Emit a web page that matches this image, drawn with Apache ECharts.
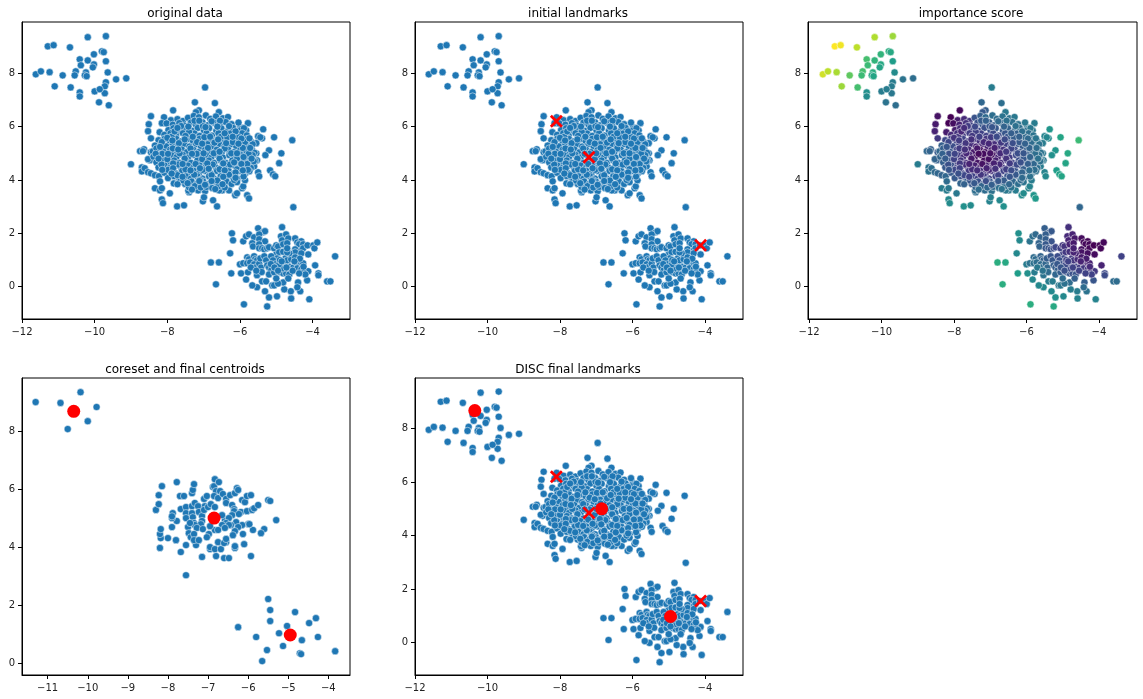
<!DOCTYPE html>
<html>
<head>
<meta charset="utf-8">
<title>DISC landmarks</title>
<script src="https://cdn.jsdelivr.net/npm/echarts@6/dist/echarts.min.js"></script>
<style>
  html, body { margin: 0; padding: 0; background: #fff; }
  #chart { width: 1143px; height: 699px; }
</style>
</head>
<body>
<div id="chart"></div>
<script>
"use strict";

// every point is [x, y, importance score]
var clusterA = [
  [-11.62,7.96,.93],[-11.48,8.07,.9],[-11.24,8.04,.87],[-11.29,9.01,1],[-11.13,9.05,.98],[-11.1,7.51,.85],
  [-10.68,8.97,.9],[-10.88,7.92,.75],[-10.66,7.47,.7],[-10.19,9.35,.88],[-9.69,9.39,.85],[-10.41,8.52,.7],
  [-10.38,8.3,.68],[-10.52,8.07,.7],[-10.55,7.92,.68],[-10.41,7.28,.5],[-10.41,7.13,.48],[-10.19,8.48,.65],
  [-10.24,8.03,.62],[-10.27,7.92,.6],[-10.22,7.89,.58],[-10.02,8.71,.65],[-10.02,8.33,.6],[-10.05,8.22,.58],
  [-9.8,8.82,.62],[-9.75,8.79,.6],[-9.69,8.45,.55],[-9.64,8.03,.48],[-9.69,7.66,.42],[-9.72,7.51,.42],
  [-9.72,7.25,.4],[-10,7.32,.42],[-9.86,7.4,.42],[-9.88,6.91,.38],[-9.61,6.8,.36],[-9.41,7.77,.38],[-9.13,7.81,.36]
];

var clusterBEdge = [
  [-6.96,7.47,.42],[-7.24,6.91,.33],[-6.69,6.88,.36],[-7.84,6.61,.02],[-7.13,6.61,.3],[-7.21,6.54,.28],[-6.58,6.54,.4],
  [-8.45,6.39,.05],[-8.09,6.35,0],[-8.51,6.09,.07],[-8.15,6.13,0],[-8.53,5.83,.1],[-8.21,5.79,.08],[-8.45,5.56,.17],
  [-5.78,6.13,.42],[-5.99,5.97,.38],[-5.36,5.9,.52],[-5.83,5.86,.4],[-5.06,5.6,.58],[-4.56,5.49,.68],[-5.5,5.64,.45],
  [-5.39,5.56,.48],[-5.44,5.6,.46],[-5.55,5.38,.42],[-5.2,5.11,.52],[-5.3,4.93,.5],[-4.86,5,.6],[-4.92,4.63,.58],
  [-5.55,5,.4],[-5.53,4.74,.4],[-5.58,4.71,.4],[-5.17,4.36,.55],[-5.09,4.21,.57],[-5.03,4.14,.58],[-5.5,4.29,.45],
  [-5.47,4.14,.47],[-9,4.59,.42],[-8.75,5.08,.33],[-8.64,5.15,.3],[-8.67,5.08,.32],[-8.7,4.47,.38],[-8.7,4.32,.38],
  [-8.62,4.44,.36],[-8.45,5.04,.28],[-8.48,4.74,.3],[-8.53,4.78,.32],[-8.53,4.29,.34],[-8.45,4.25,.33],[-8.34,4.18,.32],
  [-8.23,4.14,.33],[-8.2,3.95,.35],[-8.34,3.69,.42],[-8.2,3.61,.42],[-8.15,3.69,.4],[-8.15,3.27,.47],[-8.12,3.13,.48],
  [-7.93,3.5,.4],[-7.73,3.01,.5],[-7.54,3.05,.48],[-7.4,3.54,.36],[-7.42,3.6,.36],[-7.15,3.61,.35],[-6.96,3.58,.37],
  [-7.02,3.2,.45],[-6.99,3.35,.43],[-6.74,3.24,.47],[-6.63,3.01,.5],[-6.13,3.43,.48],[-6.08,3.5,.48],[-5.94,3.69,.46],
  [-5.91,3.76,.45],[-5.8,3.43,.52],[-5.75,3.31,.54],[-6.3,3.61,.42],[-6.49,3.61,.4],[-6.57,3.61,.4],[-5.86,3.99,.42],
  [-5.61,4.51,.42]
];

var clusterBBody = [
  [-7.9,6.24,.08],[-7.72,6.28,.12],[-7.57,6.21,.16],[-7.43,6.33,.26],[-7.27,6.4,.3],[-7.13,6.35,.34],[-6.94,6.42,.36],
  [-6.82,6.29,.35],[-6.66,6.38,.38],[-6.47,6.31,.38],[-6.33,6.36,.4],
  [-8.02,6.12,.04],[-7.85,6.07,.1],[-7.67,6.13,.14],[-7.53,6.04,.2],[-7.35,6.15,.25],[-7.21,6.07,.28],[-7.03,6.16,.3],
  [-6.89,6.05,.3],[-6.71,6.15,.33],[-6.56,6.07,.35],[-6.39,6.17,.37],[-6.23,6.09,.38],[-6.04,6.15,.4],
  [-7.97,5.87,.08],[-7.83,5.94,.12],[-7.64,5.85,.16],[-7.49,5.93,.2],[-7.31,5.84,.22],[-7.16,5.95,.25],[-6.99,5.85,.25],
  [-6.85,5.94,.28],[-6.65,5.84,.28],[-6.51,5.93,.32],[-6.33,5.84,.33],[-6.19,5.95,.36],[-6.01,5.85,.37],[-5.89,5.94,.4],
  [-8.08,5.69,.12],[-7.91,5.75,.14],[-7.76,5.67,.17],[-7.57,5.75,.18],[-7.43,5.66,.17],[-7.25,5.74,.2],[-7.11,5.65,.2],
  [-6.92,5.75,.23],[-6.77,5.66,.23],[-6.59,5.75,.27],[-6.45,5.65,.28],[-6.26,5.74,.31],[-6.11,5.65,.33],[-5.94,5.75,.36],
  [-5.81,5.67,.38],
  [-8.24,5.49,.22],[-8.07,5.55,.18],[-7.93,5.46,.2],[-7.75,5.54,.2],[-7.61,5.45,.17],[-7.43,5.54,.15],[-7.29,5.45,.14],
  [-7.11,5.54,.16],[-6.97,5.45,.16],[-6.79,5.54,.2],[-6.64,5.45,.22],[-6.46,5.54,.26],[-6.31,5.45,.27],[-6.13,5.54,.31],
  [-5.99,5.45,.32],[-5.81,5.53,.36],[-5.7,5.44,.38],
  [-8.34,5.29,.3],[-8.17,5.35,.26],[-8.03,5.26,.24],[-7.85,5.34,.2],[-7.71,5.25,.16],[-7.53,5.34,.13],[-7.39,5.25,.1],
  [-7.21,5.34,.1],[-7.07,5.25,.1],[-6.89,5.34,.13],[-6.75,5.25,.15],[-6.57,5.34,.2],[-6.43,5.25,.23],[-6.24,5.34,.27],
  [-6.1,5.25,.29],[-5.92,5.34,.33],[-5.79,5.25,.36],[-5.65,5.34,.38],
  [-8.4,5.07,.33],[-8.24,5.14,.3],[-8.1,5.05,.27],[-7.92,5.14,.2],[-7.78,5.05,.15],[-7.6,5.14,.12],[-7.46,5.04,.07],
  [-7.28,5.13,.05],[-7.14,5.04,.04],[-6.96,5.13,.08],[-6.82,5.04,.1],[-6.64,5.13,.15],[-6.5,5.04,.2],[-6.32,5.13,.23],
  [-6.17,5.04,.27],[-5.99,5.13,.3],[-5.85,5.04,.34],[-5.67,5.13,.37],[-5.6,5.02,.38],
  [-8.38,4.87,.32],[-8.21,4.94,.28],[-8.07,4.85,.24],[-7.89,4.94,.18],[-7.75,4.85,.14],[-7.57,4.94,.1],[-7.43,4.84,.05],
  [-7.25,4.93,.01],[-7.11,4.84,.02],[-6.93,4.93,.05],[-6.79,4.84,.1],[-6.61,4.93,.14],[-6.47,4.84,.18],[-6.29,4.93,.22],
  [-6.15,4.84,.26],[-5.97,4.93,.3],[-5.83,4.84,.33],[-5.65,4.93,.37],
  [-8.3,4.66,.3],[-8.13,4.73,.26],[-7.99,4.64,.2],[-7.81,4.73,.16],[-7.67,4.64,.12],[-7.49,4.73,.08],[-7.35,4.64,.05],
  [-7.17,4.73,.03],[-7.03,4.64,.06],[-6.85,4.73,.09],[-6.71,4.64,.13],[-6.53,4.73,.16],[-6.39,4.64,.2],[-6.21,4.73,.24],
  [-6.07,4.64,.27],[-5.89,4.73,.31],[-5.75,4.64,.35],[-5.62,4.7,.37],
  [-8.24,4.47,.28],[-8.07,4.54,.25],[-7.93,4.45,.2],[-7.75,4.54,.16],[-7.61,4.45,.13],[-7.43,4.54,.09],[-7.29,4.45,.09],
  [-7.11,4.54,.09],[-6.97,4.45,.11],[-6.79,4.54,.13],[-6.65,4.45,.16],[-6.47,4.54,.19],[-6.33,4.45,.23],[-6.15,4.54,.26],
  [-6.01,4.45,.3],[-5.83,4.54,.33],[-5.7,4.45,.36],
  [-8.08,4.27,.28],[-7.91,4.34,.23],[-7.77,4.25,.2],[-7.59,4.34,.17],[-7.45,4.25,.14],[-7.27,4.34,.13],[-7.13,4.25,.14],
  [-6.95,4.34,.15],[-6.81,4.25,.19],[-6.63,4.34,.2],[-6.49,4.25,.23],[-6.31,4.34,.26],[-6.17,4.25,.3],[-5.99,4.34,.32],
  [-5.85,4.25,.36],[-5.74,4.33,.37],
  [-7.98,4.07,.28],[-7.81,4.14,.25],[-7.67,4.05,.23],[-7.49,4.14,.2],[-7.35,4.05,.2],[-7.17,4.14,.18],[-7.03,4.05,.2],
  [-6.85,4.14,.21],[-6.71,4.05,.25],[-6.53,4.14,.26],[-6.39,4.05,.29],[-6.21,4.14,.31],[-6.07,4.05,.34],[-5.9,4.13,.37],
  [-7.82,3.87,.32],[-7.65,3.94,.3],[-7.51,3.85,.28],[-7.33,3.94,.25],[-7.19,3.85,.26],[-7.01,3.94,.27],[-6.87,3.85,.28],
  [-6.69,3.94,.3],[-6.55,3.85,.32],[-6.37,3.94,.33],[-6.23,3.85,.36],[-6.08,3.92,.38],
  [-7.4,3.72,.32],[-7.24,3.77,.32],[-7.08,3.72,.33],[-6.92,3.74,.34],[-6.76,3.7,.36],[-6.6,3.76,.36],[-6.42,3.72,.38],
  // second, looser layer over the dense part
  [-7.62,6.02,.18],[-7.25,6.22,.29],[-6.78,6.2,.34],[-6.3,6.02,.37],[-7.88,5.62,.16],[-7.4,5.8,.19],[-6.98,5.6,.18],
  [-6.52,5.62,.27],[-6.03,5.6,.34],[-8.15,5.42,.22],[-7.68,5.38,.16],[-7.18,5.42,.12],[-6.7,5.4,.17],[-6.2,5.42,.28],
  [-5.86,5.42,.35],[-8.3,5.18,.3],[-7.85,5.18,.18],[-7.36,5.18,.07],[-6.88,5.2,.1],[-6.42,5.18,.21],[-5.92,5.2,.32],
  [-8.14,4.98,.25],[-7.66,5.0,.11],[-7.19,4.98,.03],[-6.72,5.0,.12],[-6.24,5.0,.24],[-5.76,4.98,.36],[-8.0,4.78,.2],
  [-7.52,4.8,.07],[-7.04,4.78,.04],[-6.56,4.8,.15],[-6.08,4.8,.28],[-8.16,4.58,.25],[-7.7,4.58,.13],[-7.22,4.6,.05],
  [-6.75,4.58,.12],[-6.27,4.58,.23],[-5.8,4.6,.33],[-7.98,4.38,.22],[-7.5,4.4,.13],[-7.03,4.38,.12],[-6.56,4.4,.19],
  [-6.08,4.4,.3],[-7.72,4.18,.22],[-7.26,4.2,.16],[-6.78,4.18,.2],[-6.3,4.2,.28],[-7.56,3.98,.27],[-7.1,4.0,.24],
  [-6.62,3.98,.29],[-6.16,4.0,.34],[-7.3,5.62,.19],[-6.82,5.62,.23],[-6.35,5.6,.3],[-7.5,5.65,.17],[-7.02,6.02,.27],
  [-6.55,6.22,.37],[-6.12,5.82,.36],
  // more of the crowd, filling the holes
  [-8.0,5.58,.15],[-7.8,5.82,.11],[-7.72,5.95,.13],[-7.42,6.0,.22],[-7.12,6.22,.31],[-6.95,5.98,.27],[-6.62,6.0,.32],
  [-6.42,5.75,.3],[-6.2,5.62,.31],[-5.96,5.55,.34],[-5.74,5.56,.39],[-7.86,5.48,.18],[-7.52,5.52,.14],[-7.04,5.36,.11],
  [-6.6,5.52,.23],[-6.38,5.38,.24],[-6.04,5.36,.31],[-5.72,5.2,.36],[-8.2,5.24,.27],[-8.32,4.98,.31],[-7.98,4.98,.21],
  [-7.7,5.14,.14],[-7.32,4.98,.03],[-7.0,5.0,.05],[-6.56,5.06,.17],[-6.08,5.0,.27],[-5.9,4.86,.32],[-5.68,4.8,.37],
  [-8.24,4.8,.29],[-7.84,4.62,.17],[-7.58,4.6,.1],[-7.1,4.44,.1],[-6.9,4.62,.09],[-6.46,4.62,.18],[-6.16,4.66,.25],
  [-5.96,4.6,.3],[-5.78,4.38,.36],[-8.14,4.38,.27],[-7.84,4.44,.2],[-7.36,4.36,.13],[-6.86,4.42,.14],[-6.42,4.36,.24],
  [-6.12,4.28,.32],[-5.92,4.36,.35],[-7.88,4.24,.25],[-7.58,4.12,.2],[-7.12,3.96,.24],[-6.78,3.96,.28],[-6.46,4.12,.27],
  [-6.12,4.08,.34],[-7.72,3.84,.31],[-7.44,3.88,.28],[-6.96,3.82,.3],[-6.48,3.84,.33],[-7.32,3.64,.35],[-6.68,3.66,.38]
];

var clusterC = [
  [-6.8,.91,.62],[-6.58,.91,.6],[-6.66,.09,.62],[-6.27,1.25,.47],[-6.22,2,.5],[-6.19,1.74,.47],[-6.24,.5,.55],[-5.97,.5,.5],
  [-6,.84,.42],[-5.91,1.7,.38],[-5.83,1.89,.36],[-5.75,1.96,.34],[-5.61,1.85,.32],[-5.5,2.19,.3],[-5.36,2.04,.28],
  [-5.31,2.08,.28],[-5.47,1.96,.3],[-5.47,1.78,.3],[-5.31,1.7,.26],[-5.66,1.63,.32],[-5.64,1.51,.32],[-5.47,1.59,.28],
  [-5.47,1.44,.28],[-5.39,1.44,.27],[-5.33,1.4,.26],[-5.25,1.44,.24],[-5.2,1.48,.22],[-5.06,1.44,.2],[-5,1.55,.16],
  [-4.95,1.51,.15],[-4.84,2.23,.14],[-4.87,1.89,.12],[-4.73,1.96,.1],[-4.84,1.74,.1],[-4.81,1.59,.1],[-4.67,1.81,.07],
  [-4.7,1.63,.07],[-4.48,1.81,.03],[-4.42,1.66,.02],[-4.31,1.7,.01],[-4.37,1.59,.02],[-4.26,1.59,.01],[-4.48,1.4,.04],
  [-4.31,1.36,.03],[-4.26,1.44,.02],[-4.48,1.29,.05],[-4.31,1.25,.04],[-4.14,1.55,0],[-3.98,1.55,.01],[-3.95,1.44,.01],
  [-3.87,1.66,.02],[-4.12,1.21,.03],[-3.38,1.14,.2],[-3.93,.8,.1],[-4.12,.58,.17],[-3.84,.5,.22],[-3.84,.43,.23],
  [-4.15,.24,.27],[-3.6,.2,.35],[-3.51,.2,.35],[-4.09,-.47,.45],[-4.59,-.44,.45],[-4.34,-.17,.38],[-4.6,-.17,.42],
  [-4.4,.16,.3],[-4.42,-.02,.35],[-4.78,-.1,.42],[-4.98,-.36,.47],[-5.2,-.4,.5],[-5.31,-.17,.47],[-5.53,-.02,.47],
  [-5.66,.05,.47],[-5.39,.2,.42],[-5.28,.2,.42],[-5.11,.05,.4],[-5.06,.05,.4],[-4.81,.16,.35],[-4.95,.12,.37],
  [-5.89,-.66,.62],[-5.25,-.74,.6],[-5.78,.54,.42],[-5.83,.27,.47],[-5.53,.43,.38],[-5.8,1.1,.35],[-5.75,1.03,.35],
  [-5.61,1.14,.32],[-5.58,1.03,.32],[-5.53,.99,.31],[-5.91,.88,.38],[-5.8,.88,.37],[-5.72,.91,.36],[-5.61,.84,.35],
  [-5.58,.72,.35],[-5.47,.87,.33],[-5.42,.72,.33],[-5.44,1.06,.3],[-5.33,1.14,.27],[-5.28,.99,.28],[-5.25,.8,.3],
  [-5.2,.72,.3],[-5.14,.61,.3],[-5.2,.46,.33],[-5.06,.54,.3],[-5,.69,.26],[-4.89,.54,.27],[-5,.31,.35],[-4.81,.5,.27],
  [-4.73,.5,.25],[-4.64,.46,.26],[-4.67,.31,.3],[-4.75,.84,.2],[-4.81,.69,.23],[-4.64,.75,.2],[-4.53,.72,.18],
  [-4.42,.84,.13],[-4.31,.88,.1],[-4.26,.88,.09],[-4.42,.69,.16],[-4.31,.65,.16],[-4.26,.54,.18],[-4.2,.46,.2],
  [-4.37,.5,.2],[-5,1.21,.2],[-4.92,1.29,.17],[-4.81,1.31,.14],[-4.98,1.06,.22],[-5.14,1.14,.24],[-5.09,.99,.25],
  [-5.03,.84,.25],[-4.92,.84,.23],[-4.75,1.06,.17],[-4.7,.99,.16],[-4.59,1.03,.12],[-4.64,1.25,.1],[-4.48,1.1,.07],
  [-4.7,1.29,.1],[-4.7,1.44,.09],[-4.9,1,.2],[-4.85,.95,.2],[-5.15,.85,.28],[-5.4,.55,.35],[-5.7,.72,.4],[-4.55,.6,.2],
  [-4.35,1.05,.08],[-4.25,.75,.12],[-4.5,.95,.1],[-5.05,.72,.27],[-4.72,.72,.2],[-4.95,.6,.25],[-5.55,.6,.38],[-4.53,2.98,.33]
];

var coresetPoints = [
  [-11.3,9],[-10.68,8.97],[-10.18,9.34],[-9.78,8.83],[-10,8.34],[-10.5,8.07],
  [-5.5,2.21],[-5.45,1.83],[-4.83,1.76],[-4.31,1.55],[-4.48,1.38],[-5.45,1.45],[-5.03,1.28],[-6.25,1.24],[-5.23,1.03],
  [-5.8,.9],[-4.66,.79],[-4.26,.9],[-5.13,.59],[-5.53,.45],[-3.83,.41],[-4.71,.34],[-4.68,.31],[-5.65,.07],
  [-7.55,3.03],[-7.15,3.66],[-6.8,3.69],[-6.6,3.62],[-6.48,3.62],[-5.93,3.69],[-7.68,3.83],[-7.55,4.07],[-7.3,4.07],
  [-6.95,3.93],[-6.95,4],[-6.83,3.93],[-6.68,3.93],[-6.75,4.17],[-6.55,4.17],[-6.6,4.14],[-6.55,4.28],[-6.33,3.97],
  [-6.33,4.03],[-6.1,4.1],[-8.2,3.97],[-8.18,4.31],[-8.2,4.45],[-8.18,4.62],[-8,4.31],[-7.8,4.24],[-7.9,4.69],[-7.78,4.9],
  [-7.9,5],[-7.88,5.17],[-7.9,5.06],[-8.3,5.28],[-8.23,5.48],[-8.23,5.79],[-8.15,6.1],[-7.78,6.24],[-7.7,5.76],[-7.6,5.76],
  [-7.4,5.86],[-7.38,5.97],[-7.35,6.17],[-7.68,5.31],[-7.55,5.38],[-7.55,5.17],[-7.55,5],[-7.4,5.41],[-7.4,5.17],[-7.38,5.03],
  [-7.33,5.52],[-7.25,5.41],[-7.23,5.21],[-7.15,5.07],[-7.15,4.9],[-7.18,4.79],[-7.35,4.83],[-7.33,4.76],[-7.28,4.66],
  [-7.5,4.69],[-7.45,4.83],[-7.48,4.48],[-7.43,4.34],[-7.35,4.45],[-7.35,4.24],[-7.23,4.24],[-7.13,4.62],[-7.1,5.66],
  [-7.03,5.76],[-7.08,5.41],[-7.1,5.28],[-7,5.38],[-6.93,5.48],[-6.83,5.38],[-6.88,6.07],[-6.85,6.1],[-6.83,6.34],[-6.73,6.24],
  [-6.8,5.93],[-6.7,5.93],[-6.85,5.76],[-6.75,5.69],[-6.63,5.83],[-6.55,5.66],[-6.55,5.52],[-6.45,5.79],[-6.33,5.86],
  [-6.28,6.03],[-6.25,5.97],[-6.15,5.62],[-6.08,5.55],[-6.03,5.76],[-5.93,5.79],[-6.4,5.45],[-6.35,5.31],[-6.35,5.24],
  [-6.4,5.1],[-6.18,5.21],[-6.23,5.14],[-6.03,5.24],[-5.9,5.28],[-5.85,5.34],[-5.75,5.45],[-5.5,5.62],[-5.45,5.59],
  [-5.3,4.93],[-5.6,4.62],[-5.68,4.48],[-5.88,4.59],[-6,4.79],[-5.97,4.79],[-6.15,4.76],[-6.3,4.86],[-6.25,4.69],[-6.33,4.55],
  [-6.38,4.41],[-6.13,4.45],[-6.58,4.93],[-6.48,5],[-6.55,4.83],[-6.43,4.76],[-6.48,4.76],[-6.65,4.76],[-6.58,4.66],
  [-6.65,5.1],[-6.83,4.59],[-6.75,4.59],[-6.95,4.72],[-6.98,4.45],[-7.03,4.34]
];

var initialLandmarks = [[-8.1, 6.2], [-7.2, 4.85], [-4.12, 1.55]];
var finalCentroids = [[-10.35, 8.68], [-6.85, 5.0], [-4.95, 0.97]];

var panelTitles = ["original data", "initial landmarks", "importance score", "coreset and final centroids", "DISC final landmarks"];
var xTickValues = [-12, -10, -8, -6, -4];
var yTickValues = [0, 2, 4, 6, 8];
var coresetXTickValues = [-11, -10, -9, -8, -7, -6, -5, -4];
var viridis = ["#440154", "#482878", "#3e4989", "#31688e", "#26828e", "#1f9e89", "#35b779", "#6ece58", "#b5de2b", "#fde725"];

var allPoints = clusterA.concat(clusterBEdge, clusterBBody, clusterC);

var chart = echarts.init(document.getElementById("chart"));

var FONT = "DejaVu Sans";
var CROSS = "path://M15 0L50 35L85 0L100 15L65 50L100 85L85 100L50 65L15 100L0 85L35 50L0 15Z";

var panels = [
  { left: 22, top: 22, width: 328, xMin: -12.0, xMax: -2.97, yMin: -1.21, yMax: 9.92, xTicks: xTickValues },
  { left: 415, top: 22, width: 328, xMin: -12.0, xMax: -2.95, yMin: -1.21, yMax: 9.92, xTicks: xTickValues },
  { left: 808, top: 22, width: 329, xMin: -12.03, xMax: -2.95, yMin: -1.21, yMax: 9.92, xTicks: xTickValues },
  { left: 22, top: 378, width: 328, xMin: -11.64, xMax: -3.46, yMin: -0.41, yMax: 9.83, xTicks: coresetXTickValues },
  { left: 415, top: 378, width: 328, xMin: -12.0, xMax: -2.95, yMin: -1.22, yMax: 9.9, xTicks: xTickValues }
];

function tickLabel(value) {
  return String(value).replace("-", "\u2212");
}

var grids = [], xAxes = [], yAxes = [], titles = [];
panels.forEach(function (p, i) {
  grids.push({ left: p.left, top: p.top, width: p.width, height: 297, show: true, borderColor: "#000", borderWidth: 1, backgroundColor: "#fff" });
  xAxes.push({
    type: "value", gridIndex: i, min: p.xMin, max: p.xMax,
    splitLine: { show: false },
    axisLine: { show: true, onZero: false, lineStyle: { color: "#000", width: 1 } },
    axisTick: { show: true, length: 4, customValues: p.xTicks, lineStyle: { color: "#000" } },
    axisLabel: { customValues: p.xTicks, formatter: tickLabel, color: "#222", fontSize: 10, fontFamily: FONT, margin: 8 }
  });
  yAxes.push({
    type: "value", gridIndex: i, min: p.yMin, max: p.yMax,
    splitLine: { show: false },
    axisLine: { show: true, onZero: false, lineStyle: { color: "#000", width: 1 } },
    axisTick: { show: true, length: 4, customValues: yTickValues, lineStyle: { color: "#000" } },
    axisLabel: { customValues: yTickValues, formatter: tickLabel, color: "#222", fontSize: 10, fontFamily: FONT, margin: 7 }
  });
  titles.push({
    text: panelTitles[i], left: p.left + 158, top: p.top - 19, textAlign: "center",
    textStyle: { fontSize: 12, fontWeight: "normal", color: "#000", fontFamily: FONT }
  });
});

function dots(i, data) {
  return {
    type: "scatter", xAxisIndex: i, yAxisIndex: i, data: data, symbolSize: 7.2, silent: true,
    itemStyle: { color: "#1f77b4", opacity: 1, borderColor: "#fff", borderWidth: 0.5 }
  };
}
function crosses(i) {
  return {
    type: "scatter", xAxisIndex: i, yAxisIndex: i, data: initialLandmarks, symbol: CROSS, symbolSize: 13, silent: true, z: 5,
    itemStyle: { color: "#f00", opacity: 1 }
  };
}
function centroids(i) {
  return {
    type: "scatter", xAxisIndex: i, yAxisIndex: i, data: finalCentroids, symbolSize: 13, silent: true, z: 6,
    itemStyle: { color: "#f00", opacity: 1 }
  };
}

chart.setOption({
  animation: false,
  backgroundColor: "#fff",
  title: titles,
  grid: grids,
  xAxis: xAxes,
  yAxis: yAxes,
  visualMap: {
    show: false, seriesIndex: 3, dimension: 2, min: 0, max: 1,
    inRange: { color: viridis }
  },
  series: [
    dots(0, allPoints),
    dots(1, allPoints),
    crosses(1),
    dots(2, allPoints),
    dots(3, coresetPoints),
    centroids(3),
    dots(4, allPoints),
    crosses(4),
    centroids(4)
  ]
});
</script>
</body>
</html>
